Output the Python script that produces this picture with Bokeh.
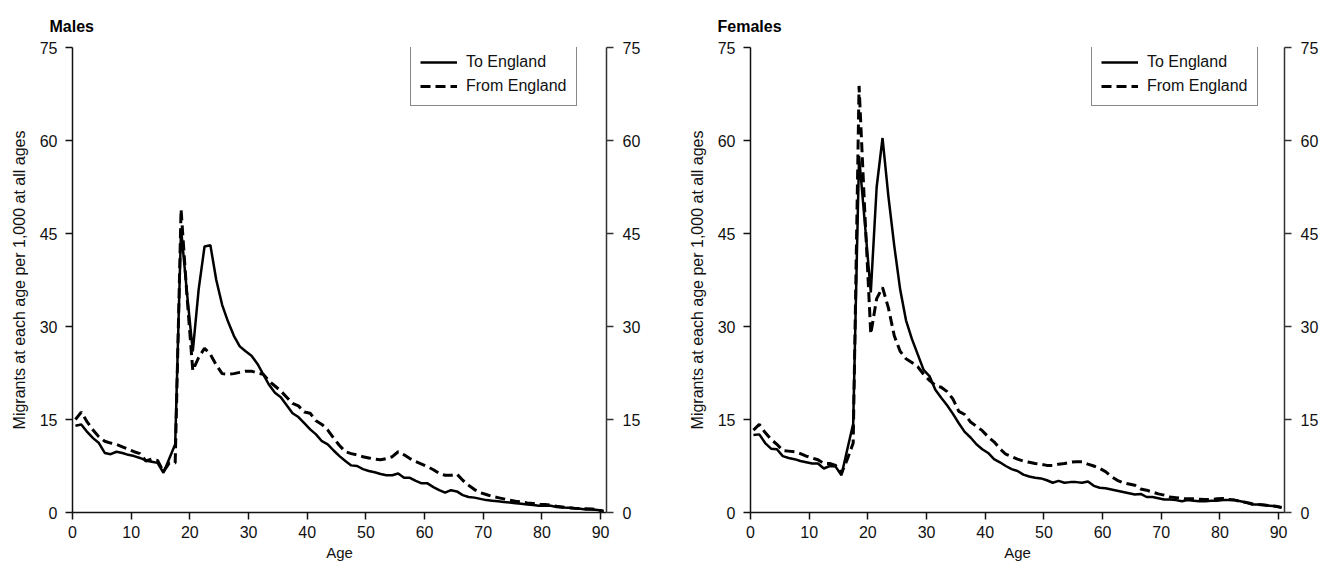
from bokeh.plotting import figure
from bokeh.layouts import row
from bokeh.models import Range1d, LinearAxis, FixedTicker, Legend, LegendItem
from bokeh.embed import file_html
from bokeh.resources import INLINE

# ---- data (single-year ages 0..90, plotted at mid-year) ----
ages = list(range(0, 91))

male_to = [14.0, 14.2, 13.0, 12.0, 11.2, 9.6, 9.4, 9.8, 9.6, 9.3,
           9.1, 8.8, 8.4, 8.2, 8.0, 6.4, 8.7, 11.0, 45.8, 35.5,
           26.0, 36.0, 42.9, 43.1, 37.5, 33.5, 30.8, 28.5, 26.8, 26.0,
           25.3, 24.0, 22.3, 20.6, 19.3, 18.6, 17.3, 16.0, 15.4, 14.4,
           13.4, 12.6, 11.5, 11.0, 10.0, 9.1, 8.3, 7.6, 7.5, 7.0,
           6.7, 6.5, 6.2, 6.0, 6.0, 6.3, 5.6, 5.6, 5.1, 4.7,
           4.7, 4.1, 3.6, 3.2, 3.6, 3.4, 2.8, 2.5, 2.4, 2.2,
           2.0, 1.9, 1.8, 1.7, 1.6, 1.5, 1.4, 1.3, 1.2, 1.1,
           1.1, 1.1, 0.9, 0.8, 0.75, 0.7, 0.6, 0.5, 0.5, 0.4, 0.2]

male_from = [15.0, 16.2, 14.6, 13.3, 12.2, 11.5, 11.2, 11.0, 10.6, 10.2,
             9.8, 9.5, 8.3, 8.6, 8.4, 6.6, 8.0, 8.0, 48.9, 35.0,
             22.9, 25.0, 26.5, 25.5, 23.8, 22.4, 22.3, 22.4, 22.6, 22.8,
             22.8, 22.5, 22.3, 21.2, 20.4, 19.6, 18.6, 17.6, 17.2, 16.2,
             16.0, 14.8, 14.2, 13.3, 12.0, 10.8, 9.8, 9.5, 9.3, 9.0,
             8.8, 8.6, 8.5, 8.7, 9.0, 9.8, 9.3, 8.7, 8.2, 7.8,
             7.4, 6.9, 6.3, 6.0, 6.0, 6.2, 5.2, 4.4, 3.7, 3.2,
             2.9, 2.6, 2.4, 2.2, 2.0, 1.8, 1.7, 1.55, 1.45, 1.3,
             1.3, 1.2, 1.0, 0.9, 0.8, 0.7, 0.65, 0.6, 0.55, 0.45, 0.2]

female_to = [12.5, 12.6, 11.2, 10.3, 10.2, 9.1, 8.8, 8.6, 8.3, 8.1,
             7.9, 7.9, 7.1, 7.5, 7.4, 6.0, 10.2, 14.3, 57.5, 46.5,
             35.5, 52.5, 60.4, 51.0, 43.0, 36.0, 31.0, 28.0, 25.5, 23.0,
             22.0, 19.8, 18.5, 17.3, 15.9, 14.4, 13.0, 12.1, 11.0, 10.2,
             9.6, 8.6, 8.1, 7.5, 7.0, 6.7, 6.1, 5.8, 5.6, 5.5,
             5.2, 4.8, 5.1, 4.8, 4.9, 4.9, 4.8, 5.0, 4.3, 4.0,
             3.9, 3.7, 3.5, 3.3, 3.1, 2.9, 3.0, 2.5, 2.5, 2.3,
             2.1, 2.1, 2.0, 1.8, 2.0, 1.9, 1.8, 1.8, 1.9, 1.9,
             2.0, 2.0, 2.0, 1.8, 1.6, 1.3, 1.3, 1.2, 1.1, 1.0, 0.8]

female_from = [13.3, 14.2, 12.9, 11.8, 11.0, 10.0, 9.9, 9.8, 9.5, 9.1,
               8.8, 8.5, 7.9, 7.9, 7.6, 6.3, 8.6, 11.2, 68.8, 48.0,
               28.8, 34.5, 36.3, 33.0, 28.5, 26.0, 24.8, 24.2, 23.5, 22.3,
               21.3, 20.5, 20.2, 19.5, 18.3, 16.3, 15.8, 14.6, 13.9, 13.2,
               12.2, 11.4, 10.3, 9.4, 9.0, 8.6, 8.3, 8.1, 7.9, 7.8,
               7.6, 7.6, 7.8, 7.9, 8.1, 8.2, 8.2, 7.8, 7.5, 7.1,
               6.6, 5.8, 5.2, 4.8, 4.6, 4.4, 3.8, 3.6, 3.3, 3.0,
               2.8, 2.5, 2.4, 2.25, 2.2, 2.2, 2.15, 2.1, 2.1, 2.2,
               2.25, 2.1, 2.0, 1.8, 1.6, 1.4, 1.3, 1.2, 1.1, 1.0, 0.8]

x_ticks = [0, 10, 20, 30, 40, 50, 60, 70, 80, 90]
y_ticks = [0, 15, 30, 45, 60, 75]
series_labels = ["To England", "From England"]

FONT = "Liberation Sans"


def style_axis(ax, color="#111111"):
    ax.axis_line_color = color
    ax.axis_line_width = 1.5
    ax.major_tick_line_color = color
    ax.major_tick_line_width = 1.5
    ax.major_tick_in = 0
    ax.major_tick_out = 7
    ax.minor_tick_line_color = None
    ax.major_label_text_font = FONT
    ax.major_label_text_font_size = "16px"
    ax.major_label_text_color = "#111111"
    ax.axis_label_text_font = FONT
    ax.axis_label_text_font_size = "15px"
    ax.axis_label_text_font_style = "normal"
    ax.axis_label_text_color = "#111111"


def make_panel(title, to_vals, from_vals, width, border_left, border_right,
               title_offset, legend_x):
    p = figure(width=width, height=569, output_backend="svg",
               toolbar_location=None, x_range=Range1d(0, 91),
               y_range=Range1d(0, 75), min_border_left=border_left,
               min_border_right=border_right, min_border_top=47,
               min_border_bottom=57)
    p.outline_line_color = None
    p.xgrid.grid_line_color = None
    p.ygrid.grid_line_color = None
    p.background_fill_color = "white"
    p.border_fill_color = "white"

    p.title.text = title
    p.title.text_font = FONT
    p.title.text_font_size = "16px"
    p.title.text_font_style = "bold"
    p.title.text_color = "#000000"
    p.title.align = "left"
    p.title.offset = title_offset
    p.title.standoff = 26

    xs = [a + 0.5 for a in ages]
    r_to = p.line(xs, to_vals, line_color="black", line_width=2.5)
    r_from = p.line(xs, from_vals, line_color="black", line_width=3,
                    line_dash="10 5")

    p.xaxis.ticker = FixedTicker(ticks=x_ticks)
    p.yaxis.ticker = FixedTicker(ticks=y_ticks)
    p.xaxis.axis_label = "Age"
    p.yaxis.axis_label = "Migrants at each age per 1,000 at all ages"
    style_axis(p.xaxis[0])
    style_axis(p.yaxis[0])
    p.yaxis.axis_label_text_font_size = "16px"
    p.xaxis.major_label_standoff = 6
    p.xaxis.axis_label_standoff = 3
    p.yaxis.major_label_standoff = 8
    p.yaxis.axis_label_standoff = 9

    right = LinearAxis(ticker=FixedTicker(ticks=y_ticks))
    style_axis(right, "#333333")
    right.major_label_standoff = 9
    p.add_layout(right, "right")

    legend = Legend(items=[LegendItem(label=series_labels[0], renderers=[r_to]),
                           LegendItem(label=series_labels[1], renderers=[r_from])],
                    location=(legend_x, 406))
    legend.border_line_color = "#111111"
    legend.border_line_width = 1.5
    legend.background_fill_color = "white"
    legend.label_text_font = FONT
    legend.label_text_font_size = "16px"
    legend.label_text_color = "#111111"
    legend.glyph_width = 37
    legend.glyph_height = 20
    legend.label_height = 20
    legend.label_standoff = 9
    legend.spacing = 4
    legend.padding = 9
    legend.margin = 0
    p.add_layout(legend, "center")
    return p


left = make_panel("Males", male_to, male_from, 678, 72, 72, -23, 338)
right_p = make_panel("Females", female_to, female_from, 651, 72, 45, -33, 341)

layout = row(left, right_p)
open("out.html", "w").write(file_html(layout, INLINE))
